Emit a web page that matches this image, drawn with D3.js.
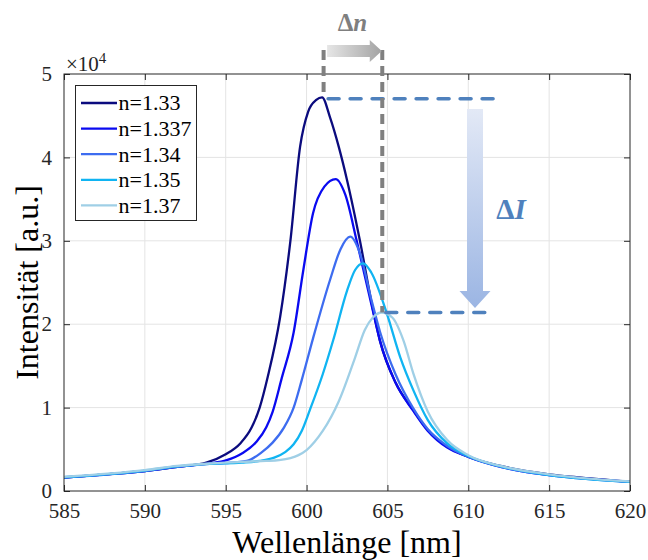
<!DOCTYPE html>
<html>
<head>
<meta charset="utf-8">
<script src="https://cdn.jsdelivr.net/npm/d3@7"></script>
<style>
  html, body { margin: 0; padding: 0; background: #fff; }
  svg { display: block; }
  text { font-family: "Liberation Serif", "Times New Roman", serif; }
</style>
</head>
<body>
<svg id="chart" width="648" height="560"></svg>
<script>
// ---------- data (wavelength nm, intensity a.u.) ----------
const seriesNames = ["n=1.33", "n=1.337", "n=1.34", "n=1.35", "n=1.37"];
const seriesColors = ["#0b0b7e", "#0a0af0", "#3d6cf0", "#10b4f2", "#9fcfe6"];

const n133 = [[585,1600],[588,2050],[590,2400],[592,2900],[593.8,3400],[595,4400],[595.9,5700],[596.6,7600],[597.1,10000],[597.6,13700],[598.36,20800],[599,30000],[599.6,41300],[600.1,45500],[600.6,46900],[600.96,47200],[601.45,44800],[602,41200],[602.5,37300],[603.3,30000],[604.1,21800],[604.54,18000],[605.5,13000],[606.6,9700],[607.5,7300],[608.7,5300],[610,4100],[612,3000],[615,2000],[617,1600],[620,1100]];
const n1337 = [[585,1600],[588,2050],[590,2400],[592,2900],[594,3300],[595.06,3700],[596,4500],[596.9,5900],[597.5,7600],[597.9,9500],[598.46,13500],[599.2,19000],[599.8,26500],[600.4,33300],[601.1,36500],[601.8,37400],[602.4,35500],[603.1,30000],[604.1,21600],[604.54,18000],[605.5,13000],[606.6,9600],[607.5,7200],[608.7,5200],[610,4100],[612,2900],[615,1900],[617,1550],[620,1100]];
const n134 = [[585,1650],[590,2400],[592,2900],[594,3250],[595,3350],[596.3,3600],[597.2,4600],[597.9,5800],[598.6,7600],[599.2,10000],[599.7,13300],[600.4,18300],[601.45,25300],[602.1,29000],[602.7,30500],[603.3,28500],[604,23000],[604.54,19100],[605.5,14000],[606.6,9900],[607.5,7400],[608.7,5400],[610,4100],[612,2900],[615,1900],[620,1100]];
const n135 = [[585,1650],[590,2450],[592,2950],[594,3250],[596,3400],[597.1,3600],[598,4000],[598.7,4700],[599.2,5600],[599.7,7200],[600.2,9700],[601,14000],[601.65,18100],[602.5,24000],[603,26500],[603.5,27300],[604,26200],[604.96,21300],[605.8,16000],[606.6,12100],[607.5,8500],[608.7,5700],[610,4200],[612,2950],[615,1900],[620,1100]];
const n137 = [[585,1700],[590,2500],[592,3000],[594,3300],[596,3500],[597.5,3600],[598.3,3700],[599,3950],[599.5,4300],[600,4900],[600.5,5900],[601,7200],[602,10800],[603,16000],[603.6,19300],[604.1,20800],[604.65,21400],[605.3,20800],[606,18000],[606.6,14100],[607.5,9500],[608.7,6100],[610,4300],[612,3000],[615,2000],[620,1150]];
const allSeries = [n133, n1337, n134, n135, n137];

const xTicks = [585, 590, 595, 600, 605, 610, 615, 620];
const yTicks = [0, 10000, 20000, 30000, 40000, 50000];

// ---------- layout ----------
const svg = d3.select("#chart");
const L = 64, R = 630, T = 74, B = 491;
const x = d3.scaleLinear().domain([585, 620]).range([L, R]);
const y = d3.scaleLinear().domain([0, 50000]).range([B, T]);
const ink = "#262626";

// defs
const defs = svg.append("defs");
defs.append("clipPath").attr("id", "plotclip")
  .append("rect").attr("x", L).attr("y", T).attr("width", R - L).attr("height", B - T);
const gGray = defs.append("linearGradient").attr("id", "grayGrad")
  .attr("x1", "0%").attr("x2", "100%").attr("y1", "0%").attr("y2", "0%");
gGray.append("stop").attr("offset", "0%").attr("stop-color", "#e6e6e6");
gGray.append("stop").attr("offset", "100%").attr("stop-color", "#a3a3a3");
const gBlue = defs.append("linearGradient").attr("id", "blueGrad")
  .attr("x1", "0%").attr("x2", "0%").attr("y1", "0%").attr("y2", "100%");
gBlue.append("stop").attr("offset", "0%").attr("stop-color", "#e3e9f6");
gBlue.append("stop").attr("offset", "100%").attr("stop-color", "#9bb5e3");

// grid
svg.append("g").selectAll("line").data(xTicks.slice(1, -1)).join("line")
  .attr("x1", d => x(d)).attr("x2", d => x(d)).attr("y1", T).attr("y2", B)
  .attr("stroke", "#e4e4e4").attr("stroke-width", 1);
svg.append("g").selectAll("line").data(yTicks.slice(1, -1)).join("line")
  .attr("x1", L).attr("x2", R).attr("y1", d => y(d)).attr("y2", d => y(d))
  .attr("stroke", "#e4e4e4").attr("stroke-width", 1);

// curves
const line = d3.line().x(d => x(d[0])).y(d => y(d[1])).curve(d3.curveMonotoneX);
svg.append("g").attr("clip-path", "url(#plotclip)")
  .selectAll("path").data(allSeries).join("path")
  .attr("d", line).attr("fill", "none")
  .attr("stroke", (d, i) => seriesColors[i]).attr("stroke-width", 2.3)
  .attr("stroke-linejoin", "round");

// axes (box + inward ticks)
const axB = d3.axisBottom(x).tickValues(xTicks).tickSize(-6).tickPadding(12).tickSizeOuter(0);
const axT = d3.axisTop(x).tickValues(xTicks).tickSize(-6).tickFormat("").tickSizeOuter(0);
const axLf = d3.axisLeft(y).tickValues(yTicks).tickSize(-6).tickPadding(12).tickFormat(d => d / 10000).tickSizeOuter(0);
const axRt = d3.axisRight(y).tickValues(yTicks).tickSize(-6).tickFormat("").tickSizeOuter(0);
function styleAxis(g) {
  g.attr("font-family", "Liberation Serif, serif");
  g.select(".domain").remove();
  g.selectAll(".tick line").attr("stroke", ink);
  g.selectAll(".tick text").attr("fill", ink).attr("font-size", 21);
}
svg.append("g").attr("transform", `translate(0,${B})`).call(axB).call(styleAxis);
svg.append("g").attr("transform", `translate(0,${T})`).call(axT).call(styleAxis);
svg.append("g").attr("transform", `translate(${L},0)`).call(axLf).call(styleAxis);
svg.append("g").attr("transform", `translate(${R},0)`).call(axRt).call(styleAxis);
svg.append("rect").attr("x", L).attr("y", T).attr("width", R - L).attr("height", B - T)
  .attr("fill", "none").attr("stroke", ink).attr("stroke-width", 1);

// exponent label
const ex = svg.append("text").attr("x", 66).attr("y", 71).attr("fill", ink).attr("font-size", 21);
ex.append("tspan").text("\u00d710");
ex.append("tspan").attr("font-size", 15).attr("dy", -8).text("4");

// axis titles
svg.append("text").attr("x", (L + R) / 2).attr("y", 553).attr("text-anchor", "middle")
  .attr("font-size", 32).attr("fill", "#000").text("Wellenlänge [nm]");
svg.append("text").attr("transform", `translate(38,${(T + B) / 2}) rotate(-90)`)
  .attr("text-anchor", "middle").attr("font-size", 32).attr("fill", "#000").text("Intensität [a.u.]");

// legend
const lg = svg.append("g");
lg.append("rect").attr("x", 75.5).attr("y", 85.5).attr("width", 121).attr("height", 135)
  .attr("fill", "#fff").attr("stroke", ink).attr("stroke-width", 1);
seriesNames.forEach((name, i) => {
  const yy = 103 + i * 25.6;
  lg.append("line").attr("x1", 81).attr("x2", 117).attr("y1", yy).attr("y2", yy)
    .attr("stroke", seriesColors[i]).attr("stroke-width", 2.3);
  lg.append("text").attr("x", 118.5).attr("y", yy).attr("dy", "0.34em")
    .attr("font-size", 22).attr("fill", "#000").text(name);
});

// ---------- annotations ----------
const peakOf = s => s.reduce((a, b) => (b[1] > a[1] ? b : a));
const p1 = peakOf(n133), p5 = peakOf(n137);
const topY = 50;
const ann = svg.append("g");
// blue dashed horizontal lines (ΔI)
ann.append("line").attr("x1", x(p1[0]) + 6).attr("x2", 495).attr("y1", y(p1[1]) + 1.5).attr("y2", y(p1[1]) + 1.5)
  .attr("stroke", "#4f81bd").attr("stroke-width", 3.5).attr("stroke-dasharray", "11,11").attr("stroke-linecap", "round");
ann.append("line").attr("x1", x(p5[0]) + 4).attr("x2", 495).attr("y1", y(p5[1])).attr("y2", y(p5[1]))
  .attr("stroke", "#4f81bd").attr("stroke-width", 3.5).attr("stroke-dasharray", "11,11").attr("stroke-linecap", "round");
// gray dashed vertical lines (Δn)
ann.append("line").attr("x1", x(p1[0]) + 1.5).attr("x2", x(p1[0]) + 1.5).attr("y1", topY).attr("y2", y(p1[1]))
  .attr("stroke", "#808080").attr("stroke-width", 4).attr("stroke-dasharray", "10,6");
ann.append("line").attr("x1", x(p5[0]) + 0.5).attr("x2", x(p5[0]) + 0.5).attr("y1", topY).attr("y2", y(p5[1]))
  .attr("stroke", "#808080").attr("stroke-width", 4).attr("stroke-dasharray", "10,6");
// gray arrow
const ax0 = x(p1[0]) + 5, ax1 = x(p5[0]);
ann.append("path")
  .attr("d", `M${ax0},45 L${ax1 - 12},45 L${ax1 - 12},40 L${ax1},51 L${ax1 - 12},62 L${ax1 - 12},57 L${ax0},57 Z`)
  .attr("fill", "url(#grayGrad)");
ann.append("text").attr("x", (ax0 + ax1) / 2 - 2).attr("y", 31).attr("text-anchor", "middle")
  .attr("font-size", 25).attr("font-weight", "bold").attr("fill", "#7f7f7f")
  .call(t => { t.append("tspan").text("\u0394"); t.append("tspan").attr("font-style", "italic").text("n"); });
// blue arrow
const bx = 475, by0 = 109, by1 = 308;
ann.append("path")
  .attr("d", `M${bx - 8},${by0} L${bx + 8},${by0} L${bx + 8},${by1 - 17} L${bx + 15.5},${by1 - 17} L${bx},${by1} L${bx - 15.5},${by1 - 17} L${bx - 8},${by1 - 17} Z`)
  .attr("fill", "url(#blueGrad)");
ann.append("text").attr("x", 511).attr("y", 219).attr("text-anchor", "middle")
  .attr("font-size", 29).attr("font-weight", "bold").attr("fill", "#4f81bd")
  .call(t => { t.append("tspan").text("\u0394"); t.append("tspan").attr("font-style", "italic").text("I"); });
</script>
</body>
</html>
